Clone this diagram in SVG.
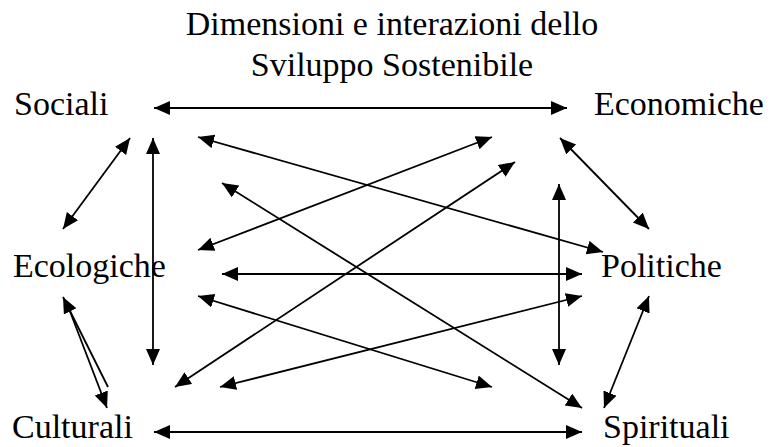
<svg xmlns="http://www.w3.org/2000/svg" width="772" height="447" viewBox="0 0 772 447">
<style>
  text { font-family: 'Liberation Serif', 'DejaVu Serif', serif; font-size: 34px; fill: #000; }
  .c line { stroke: #000; stroke-width: 1.8; fill: none; }
  .d { marker-start: url(#ah); marker-end: url(#ah); }
  .e { marker-end: url(#ah); }
</style>
<defs>
  <marker id="ah" markerUnits="userSpaceOnUse" markerWidth="18" markerHeight="16" refX="16" refY="7" orient="auto-start-reverse">
    <path d="M0,0 L16,7 L0,14 Z" fill="#000"/>
  </marker>
</defs>
<rect width="772" height="447" fill="#fff"/>
<g id="title" font-family="Liberation Serif, serif">
  <text x="392" y="35" text-anchor="middle" font-family="Liberation Serif, serif">Dimensioni e interazioni dello</text>
  <text x="392" y="76" text-anchor="middle" font-family="Liberation Serif, serif">Sviluppo Sostenibile</text>
</g>
<g id="sociali"><text x="14" y="115" font-family="Liberation Serif, serif">Sociali</text></g>
<g id="economiche"><text x="594" y="115" font-family="Liberation Serif, serif">Economiche</text></g>
<g id="ecologiche"><text x="13" y="277" font-family="Liberation Serif, serif">Ecologiche</text></g>
<g id="politiche"><text x="601" y="277" font-family="Liberation Serif, serif">Politiche</text></g>
<g id="culturali"><text x="12" y="438" font-family="Liberation Serif, serif">Culturali</text></g>
<g id="spirituali"><text x="603" y="438" font-family="Liberation Serif, serif">Spirituali</text></g>
<g id="connectors" class="c">
  <line class="d" x1="154" y1="108" x2="567" y2="108"/>
  <line class="d" x1="154" y1="432" x2="582" y2="432"/>
  <line class="d" x1="222" y1="274" x2="582" y2="274"/>
  <line class="d" x1="130" y1="138" x2="63" y2="229"/>
  <line class="d" x1="560" y1="138" x2="649" y2="229"/>
  <line class="d" x1="649" y1="296" x2="604" y2="408"/>
  <line class="d" x1="153" y1="138" x2="153" y2="365"/>
  <line class="d" x1="559" y1="184" x2="559" y2="365"/>
  <line class="d" x1="198" y1="137" x2="603" y2="252"/>
  <line class="d" x1="222" y1="183" x2="582" y2="408"/>
  <line class="d" x1="198" y1="250" x2="492" y2="137"/>
  <line class="d" x1="198" y1="296" x2="492" y2="387"/>
  <line class="d" x1="175" y1="387" x2="515" y2="162"/>
  <line class="d" x1="220" y1="387" x2="582" y2="296"/>
  <line class="e" x1="108" y1="387" x2="63" y2="297"/>
  <line class="e" x1="66" y1="301" x2="107" y2="408"/>
</g>
</svg>
